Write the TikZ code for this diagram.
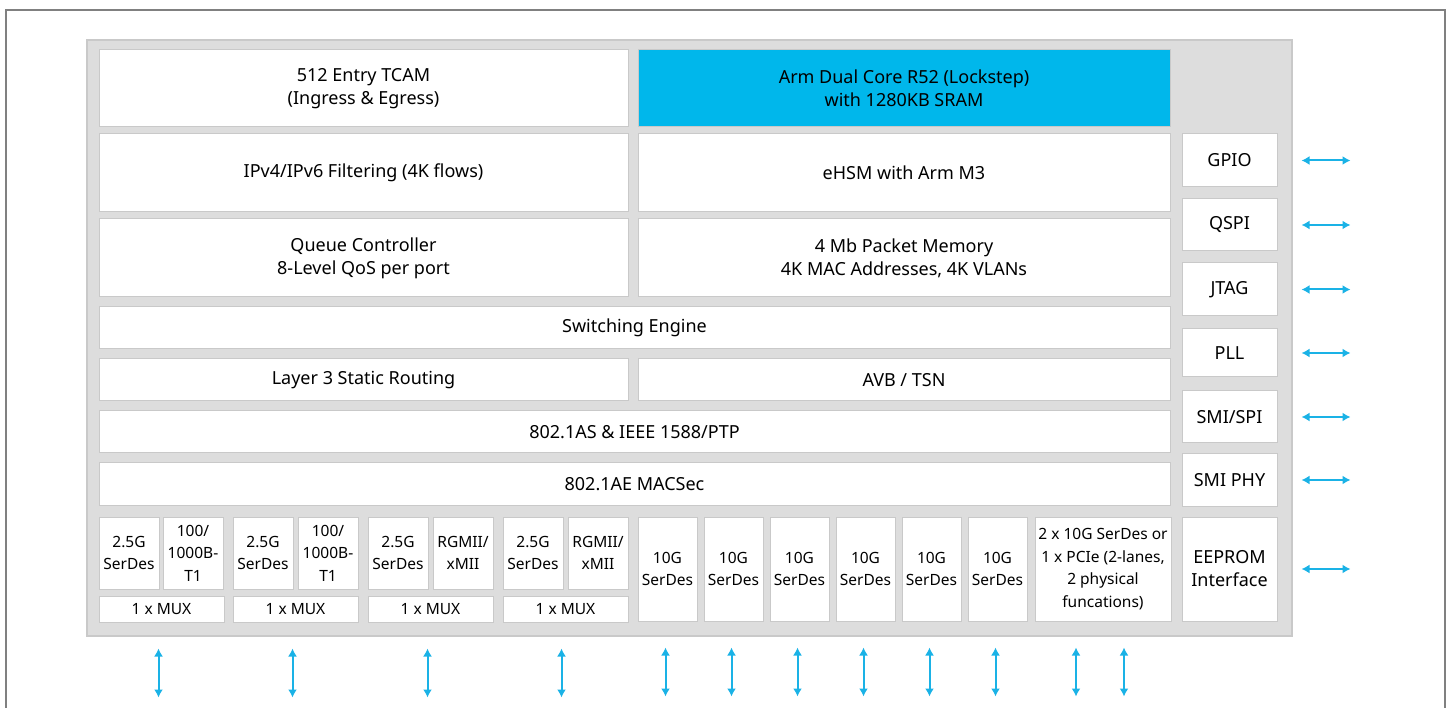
\documentclass[tikz,border=0pt]{standalone}
\usepackage{fontspec}
\setmainfont{Noto Sans}
\usetikzlibrary{arrows.meta}
\definecolor{panelgray}{HTML}{DDDDDD}
\definecolor{edgegray}{HTML}{C9C9C9}
\definecolor{armblue}{HTML}{00B7EB}
\definecolor{iocyan}{HTML}{1AB2E6}
\begin{document}
\begin{tikzpicture}[x = 1pt, y = -1pt,
    blk/.style = {draw = edgegray, fill = white, line width = 1pt, align = center, inner sep = 0pt,
                  font = \fontsize{18}{23}\selectfont},
    port/.style = {blk, font = \fontsize{15.5}{22.5}\selectfont},
    io/.style = {draw = iocyan, line width = 2pt, {Latex[length = 8pt, width = 9pt]}-{Latex[length = 8pt, width = 9pt]}}]
    \useasboundingbox (0,0) rectangle (1449,708);
    \draw[line width = 1.5pt, gray] (6,708) -- (6,10) -- (1445,10) -- (1445,708);
    \draw[fill = panelgray, draw = edgegray, line width = 1.5pt] (87,40) rectangle (1292,636);
    % upper rows
    \node[blk, minimum width = 529pt, minimum height = 77pt] (tcam) at (363.5,88.5) {512 Entry TCAM\\(Ingress \& Egress)};
    \node[blk, fill = armblue, minimum width = 532pt, minimum height = 77pt] (arm) at (904,88.5) {Arm Dual Core R52 (Lockstep)\\with 1280KB SRAM};
    \node[blk, minimum width = 529pt, minimum height = 78pt] (filter) at (363.5,173) {IPv4/IPv6 Filtering (4K flows)};
    \node[blk, minimum width = 532pt, minimum height = 78pt] (ehsm) at (904,173) {eHSM with Arm M3};
    \node[blk, minimum width = 529pt, minimum height = 78pt] (queue) at (363.5,258) {Queue Controller\\8-Level QoS per port};
    \node[blk, minimum width = 532pt, minimum height = 78pt] (pktmem) at (904,258) {4 Mb Packet Memory\\4K MAC Addresses, 4K VLANs};
    \node[blk, minimum width = 1071pt, minimum height = 42pt] (switch) at (634.5,328) {Switching Engine};
    \node[blk, minimum width = 529pt, minimum height = 42pt] (route) at (363.5,380) {Layer 3 Static Routing};
    \node[blk, minimum width = 532pt, minimum height = 42pt] (avb) at (904,380) {AVB / TSN};
    \node[blk, minimum width = 1071pt, minimum height = 42pt] (ptp) at (634.5,432) {802.1AS \& IEEE 1588/PTP};
    \node[blk, minimum width = 1071pt, minimum height = 42pt] (macsec) at (634.5,484) {802.1AE MACSec};
    % right column
    \node[blk, minimum width = 95pt, minimum height = 53pt] (gpio) at (1229.5,160.5) {GPIO};
    \node[blk, minimum width = 95pt, minimum height = 52pt] (qspi) at (1229.5,225) {QSPI};
    \node[blk, minimum width = 95pt, minimum height = 53pt] (jtag) at (1229.5,289.5) {JTAG};
    \node[blk, minimum width = 95pt, minimum height = 48pt] (pll) at (1229.5,353) {PLL};
    \node[blk, minimum width = 95pt, minimum height = 52pt] (smispi) at (1229.5,417) {SMI/SPI};
    \node[blk, minimum width = 95pt, minimum height = 52pt] (smiphy) at (1229.5,480) {SMI PHY};
    \node[blk, minimum width = 95pt, minimum height = 104pt] (eeprom) at (1229.5,569) {EEPROM\\Interface};
    % port groups
    \node[port, minimum width = 60pt, minimum height = 72pt] (sa) at (129,553) {2.5G\\SerDes};
    \node[port, minimum width = 60pt, minimum height = 72pt] (ta) at (193,553) {100/\\1000B-\\T1};
    \node[port, minimum width = 60pt, minimum height = 72pt] (sb) at (263,553) {2.5G\\SerDes};
    \node[port, minimum width = 60pt, minimum height = 72pt] (tb) at (328,553) {100/\\1000B-\\T1};
    \node[port, minimum width = 60pt, minimum height = 72pt] (sc) at (398,553) {2.5G\\SerDes};
    \node[port, minimum width = 60pt, minimum height = 72pt] (rc) at (463,553) {RGMII/\\xMII};
    \node[port, minimum width = 60pt, minimum height = 72pt] (sd) at (533,553) {2.5G\\SerDes};
    \node[port, minimum width = 60pt, minimum height = 72pt] (rd) at (598,553) {RGMII/\\xMII};
    \foreach \i/\x in {1/161.5, 2/295.5, 3/430.5, 4/565.5}
        \node[port, minimum width = 125pt, minimum height = 26pt] (mux\i) at (\x,609) {1 x MUX};
    \foreach \i in {0,...,5}
        \node[port, minimum width = 59pt, minimum height = 104pt] (ser\i) at ({667.5+66*\i},569) {10G\\SerDes};
    \node[port, minimum width = 136pt, minimum height = 104pt] (pcie) at (1103,569) {2 x 10G SerDes or\\1 x PCIe (2-lanes,\\2 physical\\funcations)};
    % io arrows
    \foreach \n in {gpio, qspi, jtag, pll, smispi, smiphy, eeprom}
        \draw[io] ([xshift = 24pt]\n.east) -- ++(49,0);
    \foreach \n/\dx in {mux1/-3, mux2/-3, mux3/-3, mux4/-4, ser0/-2, ser1/-2, ser2/-2, ser3/-2, ser4/-2, ser5/-2, pcie/-27, pcie/21}
        \draw[io] ([xshift = \dx pt, yshift = -26pt]\n.south) -- ++(0,49);
\end{tikzpicture}
\end{document}
